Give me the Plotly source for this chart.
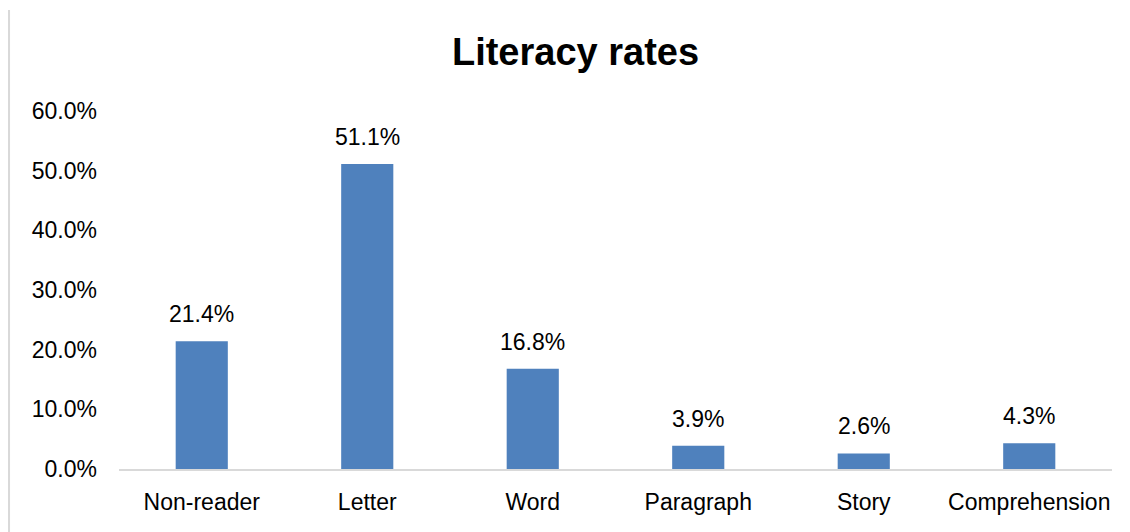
import plotly.graph_objects as go

categories = ["Non-reader", "Letter", "Word", "Paragraph", "Story", "Comprehension"]
values = [0.214, 0.511, 0.168, 0.039, 0.026, 0.043]
labels = ["21.4%", "51.1%", "16.8%", "3.9%", "2.6%", "4.3%"]
y_ticks = [0, 0.1, 0.2, 0.3, 0.4, 0.5, 0.6]
y_tick_labels = ["0.0%", "10.0%", "20.0%", "30.0%", "40.0%", "50.0%", "60.0%"]

font_family = "Liberation Sans, Arial, sans-serif"

W, H = 1122, 524
L, R, T, B = 111, 18, 103, 63
pw, ph = W - L - R, H - T - B

fig = go.Figure(go.Bar(
    x=categories, y=values,
    marker=dict(color="#4F81BD", line=dict(width=0)),
))

for c, v, t in zip(categories, values, labels):
    fig.add_annotation(x=c, y=v, text=t, showarrow=False, yanchor="bottom", yshift=12,
                       font=dict(size=23, color="#000000", family=font_family))

fig.update_layout(
    width=W, height=H,
    paper_bgcolor="white", plot_bgcolor="white",
    margin=dict(l=L, r=R, t=T, b=B),
    bargap=0.685,
    showlegend=False,
    title=dict(text="<b>Literacy rates</b>", x=567.5 / W, xanchor="center", y=1 - 44 / H, yanchor="middle",
               font=dict(size=38, color="#000000", family=font_family)),
    font=dict(family=font_family, color="#000000"),
)
fig.update_xaxes(showline=True, linecolor="#d9d9d9", linewidth=2, ticks="", showgrid=False,
                 tickfont=dict(size=23, color="#000000"), ticklabelstandoff=11)
fig.update_yaxes(range=[0, 0.6], tickvals=y_ticks, ticktext=y_tick_labels, showgrid=False,
                 zeroline=False, showline=False, ticks="",
                 tickfont=dict(size=23, color="#000000"), ticklabelstandoff=21)

fig.add_shape(type="line", xref="paper", yref="paper",
              x0=(0.8 - L) / pw, x1=(0.8 - L) / pw,
              y0=(T + ph - 2) / ph, y1=(T + ph - 540) / ph,
              line=dict(color="#d9d9d9", width=2.5))

fig.write_html("out.html")
